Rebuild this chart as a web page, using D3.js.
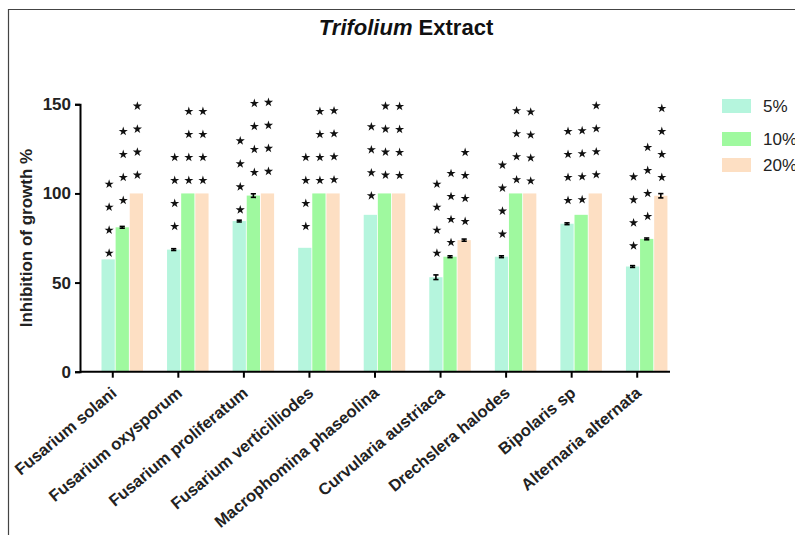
<!DOCTYPE html>
<html>
<head>
<meta charset="utf-8">
<script src="https://cdn.jsdelivr.net/npm/d3@7"></script>
<style>
  body { margin: 0; background: #fff; }
  svg { display: block; font-family: "Liberation Sans", Arial, sans-serif; }
</style>
</head>
<body>
<div class="chart"></div>
<script>
var categories = ["Fusarium solani", "Fusarium oxysporum", "Fusarium proliferatum",
    "Fusarium verticilliodes", "Macrophomina phaseolina", "Curvularia austriaca",
    "Drechslera halodes", "Bipolaris sp", "Alternaria alternata"];
var seriesNames = ["5%", "10%", "20%"];

// mean inhibition (%)
var values5 = [63, 68.5, 84.5, 69.5, 88, 53, 64.5, 83, 59];
var values10 = [81, 100, 98.8, 100, 100, 64.5, 100, 88, 74.5];
var values20 = [100, 100, 100, 100, 100, 73.8, 100, 100, 98.7];

// error (SE)
var err5 = [0, 0.5, 0.5, 0, 0, 1.3, 0.5, 0.5, 0.5];
var err10 = [0.5, 0, 1, 0, 0, 0.5, 0, 0, 0.5];
var err20 = [0, 0, 0, 0, 0, 0.6, 0, 0, 1.2];

// significance marks and the value where the lowest mark sits
var sig5 = ["****", "****", "****", "****", "****", "****", "****", "****", "****"];
var sig10 = ["****", "****", "****", "****", "****", "****", "****", "****", "****"];
var sig20 = ["****", "****", "****", "****", "****", "****", "****", "****", "****"];
var sigAt5 = [66.5, 81.5, 90.8, 81.5, 98.7, 66.5, 77.2, 96.1, 70.6];
var sigAt10 = [96.1, 107.3, 111.8, 107.3, 110.3, 72.5, 107.7, 96.5, 87.1];
var sigAt20 = [110.3, 107.3, 112.4, 107.7, 110.1, 84.3, 107, 110.5, 109];

var yTicks = [0, 50, 100, 150];
var colors = ["#b5f5dd", "#9ff99f", "#fddfc3"];

function chart() {
    var width = 795, height = 535;
    var left = 80, right = 670, top = 104.3, bottom = 371.7;

    var svg = d3.select(".chart").append("svg")
            .attr("width", width)
            .attr("height", height);

    // frame lines
    svg.append("path")
            .attr("d", "M8.5," + height + "V9.5H" + width)
            .attr("fill", "none")
            .attr("stroke", "#444")
            .attr("stroke-width", 1.2);

    var x = d3.scaleBand()
                .domain(categories)
                .range([left, right]);

    var inner = d3.scaleBand()
                .domain(seriesNames)
                .range([21.5, 63])
                .paddingInner(0.06);

    var y = d3.scaleLinear()
                .domain([0, 150])
                .range([bottom, top]);

    var series = [
        {name: "5%", values: values5, err: err5, sig: sig5, sigAt: sigAt5},
        {name: "10%", values: values10, err: err10, sig: sig10, sigAt: sigAt10},
        {name: "20%", values: values20, err: err20, sig: sig20, sigAt: sigAt20}
    ];

    var rows = [];
    series.forEach(function (s, si) {
        categories.forEach(function (c, ci) {
            rows.push({cat: c, key: s.name, si: si, v: s.values[ci], e: s.err[ci],
                sig: s.sig[ci], sigAt: s.sigAt[ci]});
        });
    });

    var cx = function (d) { return x(d.cat) + inner(d.key) + inner.bandwidth() / 2; };

    svg.append("g").selectAll("rect")
            .data(rows)
            .enter().append("rect")
            .attr("x", function (d) { return x(d.cat) + inner(d.key); })
            .attr("y", function (d) { return y(d.v); })
            .attr("width", inner.bandwidth())
            .attr("height", function (d) { return y(0) - y(d.v); })
            .attr("fill", function (d) { return colors[d.si]; });

    // error bars
    var eb = svg.append("g").attr("stroke", "#000").attr("stroke-width", 1.6);
    rows.filter(function (d) { return d.e > 0; }).forEach(function (d) {
        var c = cx(d);
        eb.append("line").attr("x1", c).attr("x2", c)
                .attr("y1", y(d.v - d.e)).attr("y2", y(d.v + d.e));
        [d.v - d.e, d.v + d.e].forEach(function (v) {
            eb.append("line").attr("x1", c - 2.6).attr("x2", c + 2.6)
                    .attr("y1", y(v)).attr("y2", y(v));
        });
    });

    // stars stacked upward
    var star = d3.symbol().type(d3.symbolStar).size(26);
    var stars = [];
    rows.forEach(function (d) {
        for (var k = 0; k < d.sig.length; k++) {
            stars.push({x: cx(d), y: y(d.sigAt) - k * 23});
        }
    });
    svg.append("g").selectAll("path")
            .data(stars)
            .enter().append("path")
            .attr("d", star)
            .attr("fill", "#111")
            .attr("transform", function (d) { return "translate(" + (d.x + 1) + "," + d.y + ")"; });

    // axes
    var xAxis = d3.axisBottom(x).tickSize(6).tickFormat("");
    var yAxis = d3.axisLeft(y).tickValues(yTicks).tickSize(5).tickPadding(4);

    var gx = svg.append("g")
            .attr("transform", "translate(0," + bottom + ")")
            .call(xAxis);
    gx.select(".domain").attr("d", "M" + left + ",0H" + right);

    var gy = svg.append("g")
            .attr("transform", "translate(" + left + ",0)")
            .call(yAxis);

    svg.selectAll(".domain, .tick line")
            .attr("stroke", "#000")
            .attr("stroke-width", 2);

    gy.selectAll("text")
            .attr("font-size", 17)
            .attr("font-weight", "bold")
            .attr("fill", "#222")
            .attr("font-family", "'Liberation Sans', Arial, sans-serif");

    svg.append("g").selectAll("text")
            .data(categories)
            .enter().append("text")
            .attr("transform", function (d) {
                return "translate(" + (x(d) + x.bandwidth() / 2 + 5) + "," + (bottom + 23) + ") rotate(-40)";
            })
            .attr("text-anchor", "end")
            .attr("font-size", 16.5)
            .attr("font-weight", "bold")
            .attr("fill", "#222")
            .text(function (d) { return d; });

    svg.append("text")
            .attr("transform", "translate(32," + ((top + bottom) / 2) + ") rotate(-90)")
            .attr("text-anchor", "middle")
            .attr("font-size", 17)
            .attr("font-weight", "bold")
            .attr("fill", "#222")
            .text("Inhibition of growth %");

    var title = svg.append("text")
            .attr("x", 406)
            .attr("y", 35)
            .attr("text-anchor", "middle")
            .attr("font-size", 22)
            .attr("font-weight", "bold")
            .attr("fill", "#111");
    title.append("tspan").attr("font-style", "italic").text("Trifolium");
    title.append("tspan").text(" Extract");

    // legend
    var legendY = [99, 132, 158];
    var legend = svg.append("g").selectAll("g")
            .data(seriesNames)
            .enter().append("g")
            .attr("transform", function (d, i) { return "translate(722," + legendY[i] + ")"; });
    legend.append("rect")
            .attr("width", 29)
            .attr("height", 14)
            .attr("fill", function (d, i) { return colors[i]; });
    legend.append("text")
            .attr("x", 41)
            .attr("y", 13)
            .attr("font-size", 17)
            .attr("fill", "#222")
            .text(function (d) { return d; });
}

chart();
</script>
</body>
</html>
